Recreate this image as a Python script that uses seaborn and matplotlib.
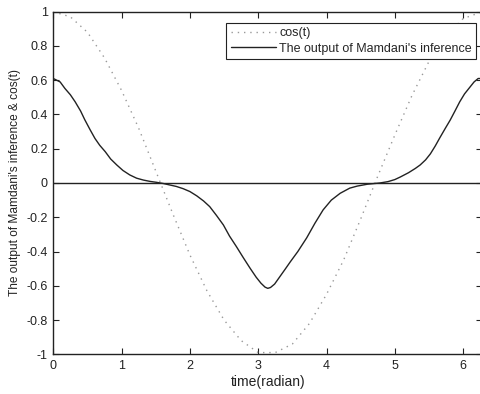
import numpy as np
import pandas as pd
import matplotlib
matplotlib.use("Agg")
import matplotlib.pyplot as plt
import seaborn as sns
from matplotlib.ticker import FixedLocator, FuncFormatter

# time samples (radian) and cos(t) values
t_cos = [0.0, 0.25, 0.5, 0.75, 1.0, 1.25, 1.5, 1.75, 2.0, 2.25, 2.5, 2.75, 3.0,
         3.25, 3.5, 3.75, 4.0, 4.25, 4.5, 4.75, 5.0, 5.25, 5.5, 5.75, 6.0, 6.283]
cos_vals = [1.0, 0.97, 0.88, 0.73, 0.54, 0.32, 0.07, -0.18, -0.42, -0.63, -0.80,
            -0.92, -0.99, -0.99, -0.94, -0.82, -0.65, -0.45, -0.21, 0.04, 0.28,
            0.51, 0.71, 0.86, 0.96, 1.0]

# Mamdani inference output
t_mam = [0.0, 0.1, 0.17, 0.25, 0.32, 0.4, 0.46, 0.54, 0.61, 0.68, 0.76, 0.84,
         0.93, 1.02, 1.12, 1.22, 1.32, 1.42, 1.51, 1.61, 1.71, 1.8, 1.9, 2.0,
         2.1, 2.2, 2.29, 2.39, 2.49, 2.58, 2.68, 2.78, 2.88, 2.97, 3.04, 3.1,
         3.14, 3.18, 3.24, 3.32, 3.4, 3.47, 3.58, 3.71, 3.83, 3.95, 4.07, 4.2,
         4.34, 4.45, 4.6, 4.78, 4.9, 5.0, 5.08, 5.2, 5.3, 5.37, 5.45, 5.52,
         5.59, 5.66, 5.74, 5.81, 5.88, 5.95, 6.02, 6.1, 6.16, 6.22, 6.283]
mam_vals = [0.61, 0.59, 0.552, 0.515, 0.474, 0.42, 0.37, 0.31, 0.26, 0.22,
            0.183, 0.14, 0.105, 0.073, 0.047, 0.028, 0.017, 0.009, 0.004,
            -0.003, -0.012, -0.02, -0.033, -0.05, -0.075, -0.105, -0.138,
            -0.19, -0.245, -0.31, -0.371, -0.435, -0.497, -0.55, -0.585,
            -0.608, -0.615, -0.61, -0.59, -0.545, -0.5, -0.46, -0.4, -0.32,
            -0.235, -0.157, -0.1, -0.06, -0.03, -0.018, -0.007, 0.0, 0.008,
            0.02, 0.035, 0.06, 0.085, 0.105, 0.135, 0.17, 0.215, 0.265, 0.32,
            0.367, 0.42, 0.474, 0.52, 0.56, 0.59, 0.61, 0.61]

x_ticks = [0, 1, 2, 3, 4, 5, 6]
y_ticks = [-1, -0.8, -0.6, -0.4, -0.2, 0, 0.2, 0.4, 0.6, 0.8, 1]

sns.set_style("ticks")
plt.rcParams["font.family"] = ["Liberation Sans", "DejaVu Sans"]
plt.rcParams["axes.unicode_minus"] = False

fig = plt.figure(figsize=(4.81, 3.94), dpi=100)
ax = fig.add_axes([0.1108, 0.1008, 0.8923, 0.8695])

df_cos = pd.DataFrame({"t": t_cos, "v": cos_vals})
df_mam = pd.DataFrame({"t": t_mam, "v": mam_vals})

sns.lineplot(data=df_cos, x="t", y="v", ax=ax, color="#999999", lw=1.0,
             linestyle=(0, (1, 3.5)), sort=False, estimator=None, label="cos(t)")
sns.lineplot(data=df_mam, x="t", y="v", ax=ax, color="#222222", lw=1.0,
             sort=False, estimator=None,
             label="The output of Mamdani's inference")
ax.axhline(0, color="#222222", lw=1.0, zorder=1)

ax.set_xlim(0, 2 * np.pi)
ax.set_ylim(-1, 1)
ax.xaxis.set_major_locator(FixedLocator(x_ticks))
ax.yaxis.set_major_locator(FixedLocator(y_ticks))
ax.yaxis.set_major_formatter(FuncFormatter(lambda v, p: f"{v:g}"))
ax.xaxis.set_major_formatter(FuncFormatter(lambda v, p: f"{v:g}"))
ax.tick_params(direction="in", length=4, width=0.8, top=True, right=True,
               labelsize=9, colors="#222222", pad=4)

for s in ax.spines.values():
    s.set_color("#222222")
    s.set_linewidth(1.0)

ax.set_xlabel("time(radian)", fontsize=10, color="#222222", labelpad=2)
ax.set_ylabel("The output of Mamdani's inference & cos(t)", fontsize=8.6,
              color="#222222", labelpad=4)

leg = ax.legend(loc="upper right", bbox_to_anchor=(0.986, 0.968),
                borderaxespad=0, fontsize=9, handlelength=3.6,
                handletextpad=0.3, borderpad=0.35, labelspacing=0.3,
                fancybox=False, framealpha=1, edgecolor="#222222")
leg.get_frame().set_linewidth(0.8)

fig.savefig("out.png", dpi=100)
